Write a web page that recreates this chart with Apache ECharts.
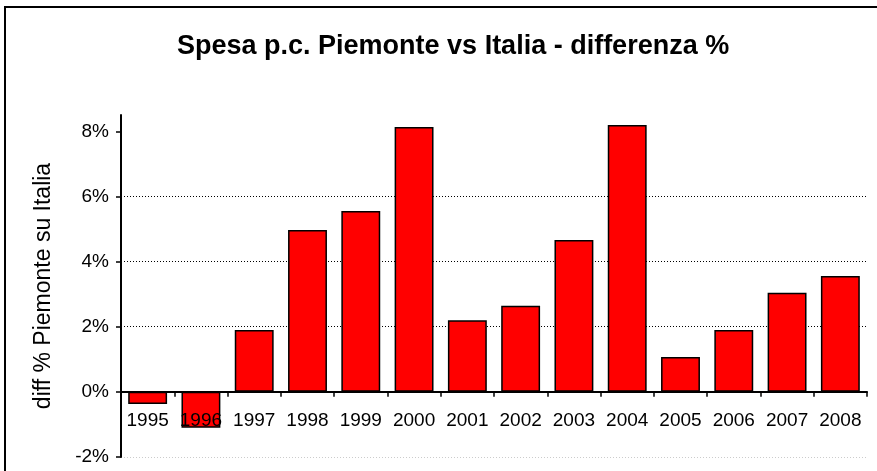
<!DOCTYPE html>
<html>
<head>
<meta charset="utf-8">
<script src="https://cdn.jsdelivr.net/npm/echarts@6/dist/echarts.min.js"></script>
<style>
  html, body { margin: 0; padding: 0; background: #fff; }
  #chart { width: 877px; height: 471px; }
</style>
</head>
<body>
<div id="chart"></div>
<script>
// dati
const years = ["1995", "1996", "1997", "1998", "1999", "2000", "2001",
  "2002", "2003", "2004", "2005", "2006", "2007", "2008"];
const diffPct = [-0.37, -1.1, 1.9, 4.97, 5.55, 8.13, 2.2,
  2.64, 4.66, 8.19, 1.07, 1.9, 3.04, 3.56];
const yTicks = [-2, 0, 2, 4, 6, 8];

let myChart = echarts.init(document.getElementById("chart"));

let option = {
  animation: false,
  textStyle: { fontFamily: "Liberation Sans, Arial, sans-serif" },
  graphic: [
    {
      type: "rect",
      shape: { x: 5, y: 7, width: 900, height: 500 },
      style: { fill: "none", stroke: "#000", lineWidth: 2 },
      silent: true
    }
  ],
  title: {
    text: "Spesa p.c. Piemonte vs Italia - differenza %",
    left: 172,
    top: 28,
    textStyle: {
      fontSize: 27,
      fontWeight: "bold",
      color: "#000",
      fontFamily: "Liberation Sans Narrow, Liberation Sans, Arial, sans-serif"
    }
  },
  grid: {
    left: 121,
    right: 10,
    top: 115,
    bottom: 14,
    outerBoundsMode: "none"
  },
  xAxis: [
    {
      // etichette degli anni, dentro l'area del grafico
      type: "category",
      data: years,
      position: "bottom",
      z: 6,
      axisLine: { show: false, onZero: false },
      axisTick: { show: false },
      axisLabel: {
        inside: true,
        interval: 0,
        color: "#000",
        fontSize: 19,
        margin: 27
      }
    },
    {
      // linea dello zero con le tacche
      type: "category",
      data: years,
      position: "bottom",
      z: 5,
      axisLine: {
        onZero: true,
        onZeroAxisIndex: 0,
        lineStyle: { color: "#000", width: 2 }
      },
      axisTick: {
        show: true,
        length: 5,
        lineStyle: { color: "#000", width: 1.5 }
      },
      axisLabel: { show: false }
    }
  ],
  yAxis: {
    type: "value",
    min: -2,
    max: 8.5,
    interval: 2,
    name: "diff % Piemonte su Italia",
    nameLocation: "middle",
    nameGap: 66,
    nameTextStyle: { fontSize: 23, color: "#000" },
    axisLine: {
      show: true,
      lineStyle: { color: "#000", width: 2 }
    },
    axisTick: {
      show: true,
      length: 5,
      customValues: yTicks,
      lineStyle: { color: "#000", width: 1.5 }
    },
    axisLabel: {
      color: "#000",
      fontSize: 19,
      margin: 12,
      customValues: yTicks,
      formatter: "{value}%"
    },
    splitLine: {
      show: true,
      showMaxLine: false,
      lineStyle: {
        type: [1, 2],
        color: ["#ccc", "#000", "#000", "#000", "#000", "#000", "rgba(0,0,0,0)"],
        width: 1
      }
    }
  },
  series: [
    {
      name: "diff %",
      type: "bar",
      xAxisIndex: 0,
      data: diffPct,
      barCategoryGap: "27%",
      itemStyle: {
        color: "#ff0000",
        borderColor: "#000",
        borderWidth: 1.5
      }
    }
  ]
};

myChart.setOption(option);
</script>
</body>
</html>
